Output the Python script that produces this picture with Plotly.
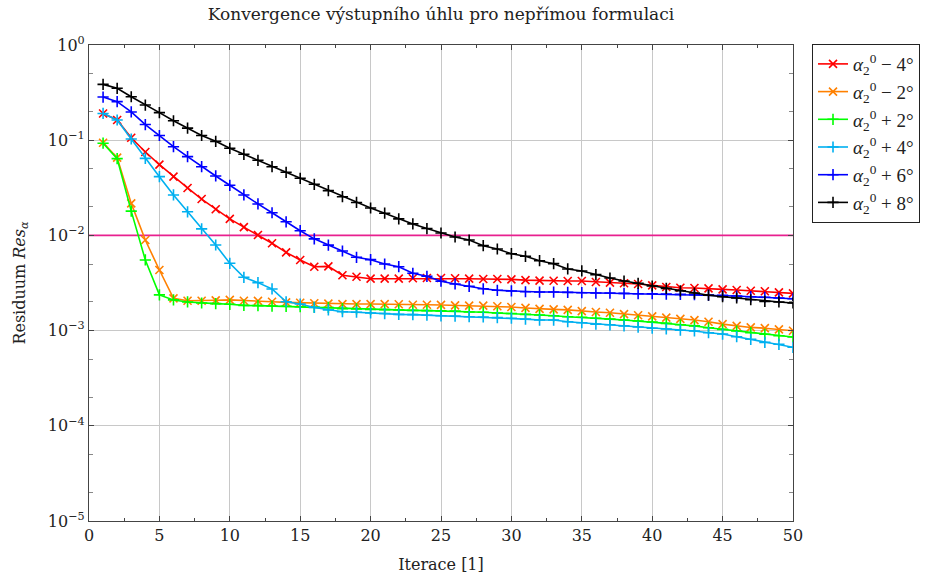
import plotly.graph_objects as go

iterations = list(range(1, 51))

res_m4 = [0.191, 0.163, 0.106, 0.0752, 0.0553, 0.0414, 0.0315, 0.0241, 0.0188, 0.0149,
          0.0122, 0.0101, 0.00826, 0.00664, 0.00552, 0.00469, 0.00473, 0.00381, 0.00368, 0.00351,
          0.00351, 0.00351, 0.00355, 0.00357, 0.00357, 0.00355, 0.00351, 0.00348, 0.00348, 0.00345,
          0.00339, 0.00335, 0.00334, 0.00332, 0.00332, 0.00324, 0.00319, 0.00314, 0.00309, 0.00299,
          0.00287, 0.00282, 0.0028, 0.00278, 0.00271, 0.00267, 0.00262, 0.00259, 0.00252, 0.00246]

res_m2 = [0.094, 0.0655, 0.0217, 0.00895, 0.00433, 0.00218, 0.00206, 0.00206, 0.00208, 0.0021,
          0.00206, 0.00205, 0.00201, 0.00198, 0.00196, 0.00194, 0.00192, 0.0019, 0.0019, 0.0019,
          0.0019, 0.00189, 0.00187, 0.00187, 0.00186, 0.00184, 0.00183, 0.00183, 0.0018, 0.00177,
          0.00173, 0.00169, 0.00167, 0.00165, 0.0016, 0.00157, 0.00154, 0.00149, 0.00145, 0.00141,
          0.00137, 0.00133, 0.00129, 0.00124, 0.00117, 0.00112, 0.00108, 0.00106, 0.00103, 0.000997]

res_p2 = [0.093, 0.064, 0.018, 0.00552, 0.00237, 0.0021, 0.002, 0.00195, 0.00192, 0.00189,
          0.00184, 0.00183, 0.00181, 0.0018, 0.00178, 0.00176, 0.00175, 0.0017, 0.00169, 0.00167,
          0.00166, 0.00165, 0.00163, 0.00162, 0.00161, 0.0016, 0.00157, 0.00156, 0.00153, 0.00151,
          0.00148, 0.00146, 0.00143, 0.0014, 0.00138, 0.00135, 0.00132, 0.00129, 0.00126, 0.00123,
          0.00119, 0.00115, 0.00112, 0.00107, 0.00103, 0.00099, 0.00095, 0.000915, 0.000884, 0.000857]

res_p4 = [0.191, 0.163, 0.103, 0.0645, 0.0414, 0.0266, 0.0177, 0.0117, 0.00793, 0.00509,
          0.00363, 0.00319, 0.00274, 0.00201, 0.0019, 0.00175, 0.00165, 0.00158, 0.00156, 0.00153,
          0.00151, 0.00148, 0.00147, 0.00145, 0.00143, 0.00142, 0.0014, 0.00139, 0.00137, 0.00135,
          0.00132, 0.00129, 0.00129, 0.00124, 0.00121, 0.00117, 0.00115, 0.00112, 0.00109, 0.00106,
          0.00104, 0.00101, 0.00099, 0.00095, 0.00092, 0.000863, 0.00081, 0.000753, 0.000718, 0.000668]

res_p6 = [0.284, 0.254, 0.198, 0.146, 0.112, 0.0855, 0.0672, 0.0527, 0.0421, 0.0336,
          0.0266, 0.0214, 0.0173, 0.0139, 0.0112, 0.0092, 0.0079, 0.00686, 0.00589, 0.00556,
          0.00501, 0.00469, 0.004, 0.00372, 0.0033, 0.00309, 0.00292, 0.00275, 0.00265, 0.00261,
          0.00256, 0.00254, 0.00254, 0.00252, 0.0025, 0.00248, 0.00248, 0.00246, 0.00244, 0.00244,
          0.00242, 0.0024, 0.00238, 0.00236, 0.00235, 0.00231, 0.00227, 0.00224, 0.0022, 0.00216]

res_p8 = [0.386, 0.351, 0.286, 0.234, 0.195, 0.160, 0.134, 0.112, 0.0973, 0.0822,
          0.0711, 0.0615, 0.0527, 0.046, 0.0398, 0.0344, 0.0295, 0.0255, 0.0222, 0.0194,
          0.0171, 0.0149, 0.0132, 0.0118, 0.0106, 0.00962, 0.00895, 0.0078, 0.0072, 0.00642,
          0.00603, 0.00542, 0.00505, 0.00444, 0.00423, 0.00387, 0.00357, 0.00332, 0.00314, 0.00294,
          0.00278, 0.00262, 0.00248, 0.00235, 0.00227, 0.0022, 0.00211, 0.00203, 0.002, 0.00195]

threshold = 0.01

series_names = ["<i>α</i><sub>2</sub><sup>0</sup> − 4°", "<i>α</i><sub>2</sub><sup>0</sup> − 2°",
                "<i>α</i><sub>2</sub><sup>0</sup> + 2°", "<i>α</i><sub>2</sub><sup>0</sup> + 4°",
                "<i>α</i><sub>2</sub><sup>0</sup> + 6°", "<i>α</i><sub>2</sub><sup>0</sup> + 8°"]
series_values = [res_m4, res_m2, res_p2, res_p4, res_p6, res_p8]
series_colors = ["#FF0000", "#FF8000", "#00FF00", "#00B0F0", "#0000FF", "#000000"]
series_symbols = ["x-thin", "x-thin", "cross-thin", "cross-thin", "cross-thin", "cross-thin"]

x_tickvals = [0, 5, 10, 15, 20, 25, 30, 35, 40, 45, 50]
y_tickvals = [1e-5, 1e-4, 1e-3, 1e-2, 1e-1, 1e0]
y_ticktext = ["10<sup>−5</sup>", "10<sup>−4</sup>", "10<sup>−3</sup>",
              "10<sup>−2</sup>", "10<sup>−1</sup>", "10<sup>0</sup>"]

FONT = "DejaVu Serif, Liberation Serif, serif"
LEG_FONT = "Liberation Serif, DejaVu Serif, serif"

fig = go.Figure()

fig.add_trace(go.Scatter(
    x=[0, 50], y=[threshold, threshold], mode="lines",
    line=dict(color="#E8208F", width=1.8), showlegend=False, hoverinfo="skip"))

for name, vals, col, sym in zip(series_names, series_values, series_colors, series_symbols):
    fig.add_trace(go.Scatter(
        x=iterations, y=vals, mode="lines+markers", name=name,
        line=dict(color=col, width=1.6),
        marker=dict(symbol=sym, size=8, color=col, line=dict(color=col, width=1.6))))

fig.update_layout(
    width=928, height=578,
    margin=dict(l=89, r=135, t=45, b=57, autoexpand=False),
    paper_bgcolor="white", plot_bgcolor="white",
    font=dict(family=FONT, size=16, color="#222"),
    title=dict(text="Konvergence výstupního úhlu pro nepřímou formulaci",
               x=(89 + 793) / 2 / 928, xanchor="center", y=0.975, yanchor="middle",
               font=dict(family=FONT, size=17, color="#222")),
    legend=dict(x=1.027, y=1.002, xanchor="left", yanchor="top",
                bordercolor="#222", borderwidth=1, bgcolor="white",
                font=dict(family=LEG_FONT, size=19), tracegroupgap=0,
                itemwidth=30),
    showlegend=True,
)

fig.update_xaxes(
    range=[0, 50], tickvals=x_tickvals, ticks="inside", ticklen=5, tickcolor="#444",
    minor=dict(dtick=2.5, ticks="inside", ticklen=3, tickcolor="#444", showgrid=False),
    showgrid=True, gridcolor="#C8C8C8", gridwidth=1,
    showline=True, linecolor="#444", linewidth=1.2, mirror="ticks", zeroline=False,
    title=dict(text="Iterace [1]", standoff=14, font=dict(family=FONT, size=16)),
    tickfont=dict(family=FONT, size=16))

fig.update_yaxes(
    type="log", range=[-5, 0], tickvals=y_tickvals, ticktext=y_ticktext,
    ticks="inside", ticklen=5, tickcolor="#444",
    minor=dict(ticks="inside", ticklen=4, tickcolor="#888", showgrid=False),
    showgrid=True, gridcolor="#C8C8C8", gridwidth=1,
    showline=True, linecolor="#444", linewidth=1.2, mirror="ticks", zeroline=False,
    title=dict(text="Residuum <i>Res</i><sub><i>α</i></sub>", standoff=18,
               font=dict(family=FONT, size=16)),
    tickfont=dict(family=FONT, size=16))

fig.write_html("out.html")
